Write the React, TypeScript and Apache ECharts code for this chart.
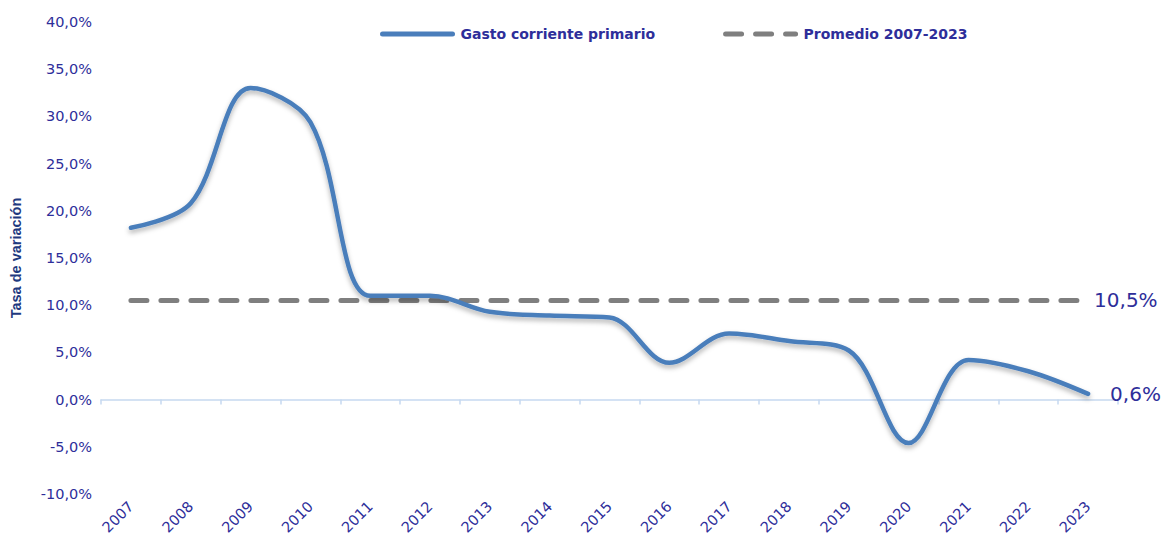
import React, { useEffect, useRef } from "react";
import * as echarts from "echarts";

const years = ["2007","2008","2009","2010","2011","2012","2013","2014","2015","2016","2017","2018","2019","2020","2021","2022","2023"];
const gasto = [18.2, 20.8, 33.0, 29.4, 11.0, 11.0, 9.3, 8.9, 8.7, 3.9, 7.0, 6.2, 5.2, -4.6, 4.2, 3.0, 0.6];
const promedio = [10.5, 10.5, 10.5, 10.5, 10.5, 10.5, 10.5, 10.5, 10.5, 10.5, 10.5, 10.5, 10.5, 10.5, 10.5, 10.5, 10.5];
const seriesNames = ["Gasto corriente primario", "Promedio 2007-2023"];
const yTicks = { min: -10, max: 40, interval: 5 };

const TEXT = "#2e2e9a";
const FONT = "DejaVu Sans";

export default function App() {
  const ref = useRef<HTMLDivElement>(null);
  useEffect(() => {
    document.body.style.margin = "0";
    const chart = echarts.init(ref.current!, null, { renderer: "svg" });
    const fmt = (v: number) => v.toFixed(1).replace(".", ",") + "%";
    chart.setOption({
      animation: false,
      backgroundColor: "#ffffff",
      grid: { left: 101, right: 46, top: 22, bottom: 51 },
      legend: {
        left: 375,
        top: 22,
        itemWidth: 70,
        itemHeight: 14,
        itemGap: 68,
        itemStyle: { opacity: 0 },
        lineStyle: { width: 5 },
        textStyle: { color: TEXT, fontFamily: FONT, fontSize: 14, fontWeight: "bold", padding: [0, 0, 0, 3] },
        data: seriesNames,
      },
      xAxis: {
        type: "category",
        data: years,
        boundaryGap: true,
        axisLine: { lineStyle: { color: "#c6d9f0", width: 1.5 } },
        axisTick: { show: true, length: 5, lineStyle: { color: "#c6d9f0", width: 1.5 } },
        axisLabel: { rotate: 45, color: TEXT, fontFamily: FONT, fontSize: 14.5, margin: 10, interval: 0 },
        splitLine: { show: false },
      },
      yAxis: {
        type: "value",
        min: yTicks.min,
        max: yTicks.max,
        interval: yTicks.interval,
        name: "Tasa de variación",
        nameLocation: "middle",
        nameRotate: 90,
        nameGap: 78,
        nameTextStyle: { color: "#1f3a80", fontFamily: "Liberation Sans", fontSize: 14.5, fontWeight: "bold" },
        axisLine: { show: false },
        axisTick: { show: false },
        splitLine: { show: false },
        axisLabel: { formatter: fmt, color: TEXT, fontFamily: FONT, fontSize: 14.5, margin: 9 },
      },
      series: [
        {
          name: seriesNames[0],
          type: "line",
          data: gasto,
          smooth: 0.35,
          symbol: "none",
          showSymbol: false,
          lineStyle: {
            color: "#4a7ebb",
            width: 4.5,
            cap: "round",
            shadowColor: "rgba(0,0,0,0.3)",
            shadowBlur: 5,
            shadowOffsetY: 3,
          },
          itemStyle: { color: "#4a7ebb" },
          endLabel: {
            show: true,
            formatter: "0,6%",
            color: TEXT,
            fontFamily: FONT,
            fontSize: 20,
            distance: 22,
          },
          z: 3,
        },
        {
          name: seriesNames[1],
          type: "line",
          data: promedio,
          symbol: "none",
          showSymbol: false,
          lineStyle: {
            color: "#7f7f7f",
            width: 5,
            type: [16, 14],
            cap: "round",
          },
          itemStyle: { color: "#7f7f7f" },
          endLabel: {
            show: true,
            formatter: "10,5%",
            color: TEXT,
            fontFamily: FONT,
            fontSize: 20,
            distance: 6,
          },
          z: 2,
        },
      ],
    });
    return () => chart.dispose();
  }, []);
  return <div ref={ref} style={{ width: 1164, height: 545 }} />;
}
